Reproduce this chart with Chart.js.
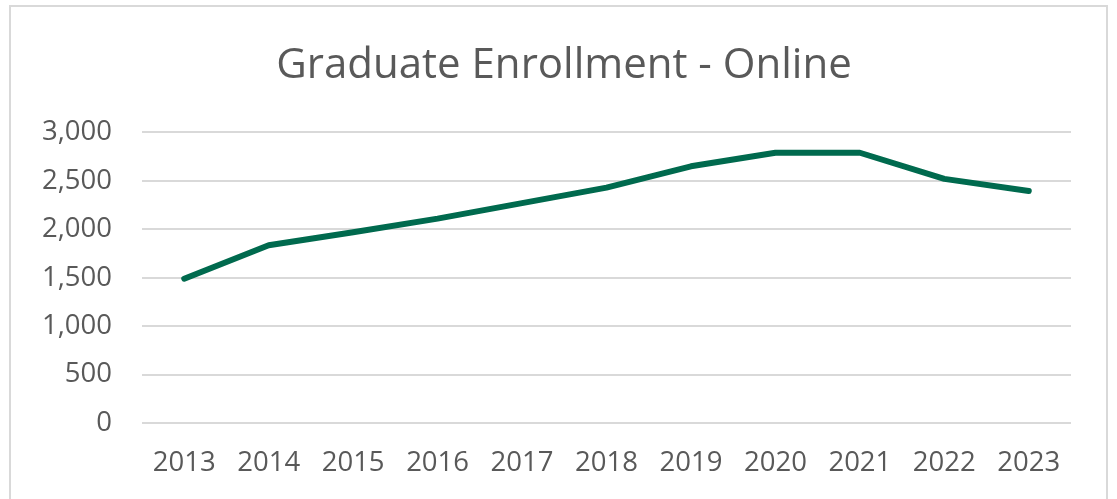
<!DOCTYPE html>
<html>
<head>
<meta charset="utf-8">
<script src="https://cdn.jsdelivr.net/npm/chart.js@4/dist/chart.umd.min.js"></script>
<style>
  html, body { margin: 0; padding: 0; background: #ffffff; overflow: hidden; }
  #box { position: absolute; left: 9px; top: 5px; width: 1095px; height: 496px; border: 2px solid #d9d9d9; background: #fff; }
  #c { display: block; }
</style>
</head>
<body>
<div id="box"><canvas id="c" width="1095" height="496"></canvas></div>
<script>
const chartTitle = "Graduate Enrollment - Online";
const years = ["2013","2014","2015","2016","2017","2018","2019","2020","2021","2022","2023"];
const enrollment = [1490, 1835, 1970, 2110, 2270, 2430, 2650, 2790, 2790, 2520, 2395];
const yTicks = [0, 500, 1000, 1500, 2000, 2500, 3000];

const fontFamily = "'Open Sans', 'Noto Sans', sans-serif";
const textColor = "#595959";

const shiftTitle = {
  id: 'shiftTitle',
  afterLayout(chart) {
    const t = chart.titleBlock;
    if (t) { t.left += 23; t.right += 23; }
  }
};

new Chart(document.getElementById('c'), {
  type: 'line',
  data: {
    labels: years,
    datasets: [{
      label: chartTitle,
      data: enrollment,
      borderColor: '#006A4E',
      backgroundColor: '#006A4E',
      borderWidth: 6,
      borderCapStyle: 'round',
      borderJoinStyle: 'round',
      pointRadius: 0,
      tension: 0,
      fill: false
    }]
  },
  plugins: [shiftTitle],
  options: {
    responsive: false,
    animation: false,
    events: [],
    layout: { padding: { left: 0, right: 35, top: 0, bottom: 0 } },
    plugins: {
      legend: { display: false },
      tooltip: { enabled: false },
      title: {
        display: true,
        text: chartTitle,
        color: textColor,
        font: { family: fontFamily, size: 42, weight: 'normal' },
        padding: { top: 34, bottom: 41 }
      }
    },
    scales: {
      x: {
        offset: true,
        grid: { display: false, drawTicks: false },
        border: { display: false },
        ticks: { color: textColor, font: { family: fontFamily, size: 27.5 }, padding: 23.5, maxRotation: 0, autoSkip: false },
        afterFit: (s) => { s.height = 80; }
      },
      y: {
        min: yTicks[0],
        max: yTicks[yTicks.length - 1],
        afterBuildTicks: (s) => { s.ticks = yTicks.map(v => ({ value: v })); },
        grid: { color: '#d9d9d9', lineWidth: 2, drawTicks: false },
        border: { display: false },
        ticks: {
          color: textColor,
          font: { family: fontFamily, size: 27.5 },
          padding: 30,
          callback: (v) => v.toLocaleString('en-US')
        },
        afterFit: (s) => { s.width = 131; }
      }
    }
  }
});
</script>
</body>
</html>
